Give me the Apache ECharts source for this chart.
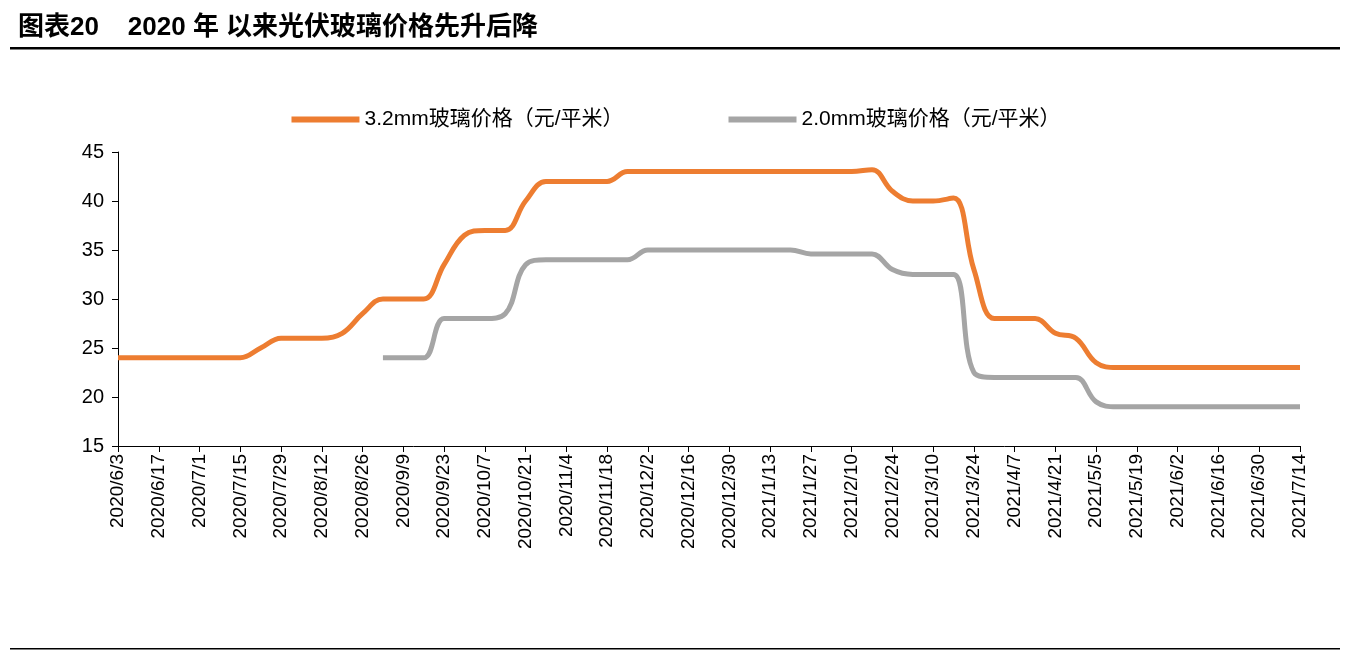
<!DOCTYPE html>
<html><head><meta charset="utf-8">
<script src="https://cdn.jsdelivr.net/npm/echarts@6/dist/echarts.min.js"></script>
<style>body{margin:0;background:#fff}#c{width:1352px;height:656px}</style>
</head><body><div id="c"></div>
<script>
const dates = ['2020/6/3','2020/6/10','2020/6/17','2020/6/24','2020/7/1','2020/7/8','2020/7/15','2020/7/22','2020/7/29','2020/8/5',
  '2020/8/12','2020/8/19','2020/8/26','2020/9/2','2020/9/9','2020/9/16','2020/9/23','2020/9/30','2020/10/7','2020/10/14',
  '2020/10/21','2020/10/28','2020/11/4','2020/11/11','2020/11/18','2020/11/25','2020/12/2','2020/12/9','2020/12/16','2020/12/23',
  '2020/12/30','2021/1/6','2021/1/13','2021/1/20','2021/1/27','2021/2/3','2021/2/10','2021/2/17','2021/2/24','2021/3/3',
  '2021/3/10','2021/3/17','2021/3/24','2021/3/31','2021/4/7','2021/4/14','2021/4/21','2021/4/28','2021/5/5','2021/5/12',
  '2021/5/19','2021/5/26','2021/6/2','2021/6/9','2021/6/16','2021/6/23','2021/6/30','2021/7/7','2021/7/14'];
const glass32 = [24,24,24,24,24,24,24,25,26,26,
  26,26.5,28.5,30,30,30,33.5,36.5,37,37,
  40,42,42,42,42,43,43,43,43,43,
  43,43,43,43,43,43,43,43.2,41,40,
  40,40.3,33,28,28,28,26.5,26,23.5,23,
  23,23,23,23,23,23,23,23,23];
const glass20 = [null,null,null,null,null,null,null,null,null,null,
  null,null,null,24,24,24,28,28,28,28.5,
  33.5,34,34,34,34,34,35,35,35,35,
  35,35,35,35,34.6,34.6,34.6,34.6,33,32.5,
  32.5,32.5,22.5,22,22,22,22,22,19.5,19,
  19,19,19,19,19,19,19,19,19];

const chart = echarts.init(document.getElementById('c'));
const font = 'Arial, "Liberation Sans", "Noto Sans CJK SC"';
chart.setOption({
  animation: false,
  textStyle: {fontFamily: font},
  graphic: [
    {type: 'text', left: 18, top: 15, style: {text: '图表20    2020 年 以来光伏玻璃价格先升后降', font: 'bold 26px ' + font, fill: '#000'}},
    {type: 'rect', shape: {x: 10, y: 47, width: 1330, height: 2.5}, style: {fill: '#000'}},
    {type: 'rect', shape: {x: 10, y: 648, width: 1330, height: 1.5}, style: {fill: '#000'}}
  ],
  legend: {
    top: 104, left: 'center', itemGap: 105, itemWidth: 68, itemHeight: 6,
    textStyle: {fontSize: 21, color: '#000'},
    data: [{name: '3.2mm玻璃价格（元/平米）', icon: 'rect'}, {name: '2.0mm玻璃价格（元/平米）', icon: 'rect'}]
  },
  grid: {left: 118, right: 52, top: 152, bottom: 210},
  xAxis: {
    type: 'category', data: dates, boundaryGap: false,
    axisLine: {lineStyle: {color: '#000'}},
    axisTick: {interval: 1, length: 6, lineStyle: {color: '#000'}},
    axisLabel: {interval: 1, rotate: 90, fontSize: 19, color: '#000'}
  },
  yAxis: {
    type: 'value', min: 15, max: 45, interval: 5,
    axisLine: {show: true, lineStyle: {color: '#000'}},
    axisTick: {show: true, inside: false, length: 6, lineStyle: {color: '#000'}},
    axisLabel: {fontSize: 20, color: '#000', margin: 14},
    splitLine: {show: false}
  },
  series: [
    {name: '3.2mm玻璃价格（元/平米）', type: 'line', data: glass32, smooth: 0.4, symbol: 'none',
      lineStyle: {width: 5, color: '#ED7D31'}, itemStyle: {color: '#ED7D31'}},
    {name: '2.0mm玻璃价格（元/平米）', type: 'line', data: glass20, smooth: 0.4, symbol: 'none',
      lineStyle: {width: 5, color: '#A5A5A5'}, itemStyle: {color: '#A5A5A5'}}
  ]
});
</script>
</body></html>
